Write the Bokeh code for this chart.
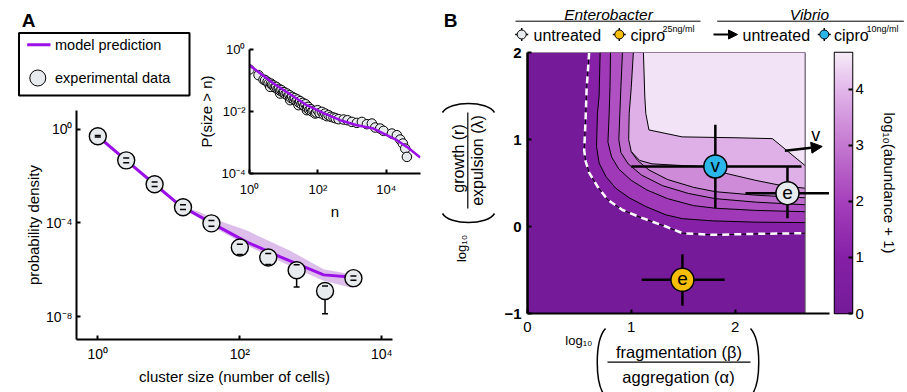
import numpy as np
from bokeh.plotting import figure
from bokeh.layouts import column
from bokeh.models import (Range1d, FixedTicker, CustomJSTickFormatter, ColumnDataSource,
                          LinearColorMapper, Arrow, NormalHead)
from bokeh.core.properties import value
from bokeh.embed import file_html
from bokeh.resources import INLINE

FONT = "Liberation Sans"
PURPLE = "#9c10e8"
BAND = "#d7b3e7"
GREY = "#e8ebee"
BLUE = "#2bb6ea"
YELLOW = "#f6be06"
W, H = 907, 392
BL, BR = 100, 60   # common left/right borders (the column aligns frames horizontally)

# ---------------- Panel A, main plot (log10 values) ----------------
size_log = [0.0, 0.4, 0.8, 1.2, 1.6, 2.0, 2.4, 2.8, 3.2, 3.6]
density_log = [-0.30, -1.33, -2.35, -3.33, -4.02, -5.05, -5.48, -6.02, -6.91, -6.36]
err_up_log = [0.03, 0.10, 0.10, 0.10, 0.12, 0.14, 0.17, 0.23, 0.21, 0.09]
err_down_log = [0.03, 0.10, 0.10, 0.10, 0.12, 0.30, 0.30, 0.72, 0.97, 0.09]

model_size_log = [0.0, 0.4, 0.8, 1.16, 1.63, 2.10, 2.57, 3.18, 3.6]
model_density_log = [-0.30, -1.33, -2.35, -3.26, -4.05, -4.82, -5.45, -6.22, -6.32]

band_size_log = [1.16, 1.44, 1.63, 2.10, 2.71, 3.18, 3.6]
band_upper_log = [-3.24, -3.55, -3.82, -4.33, -5.19, -5.98, -6.22]
band_lower_log = [-3.28, -3.75, -4.19, -4.97, -5.84, -6.47, -6.79]

# ---------------- Panel A, inset: P(size > n) ----------------
ccdf_n_log = [0.00, 0.264, 0.41, 0.46, 0.527, 0.56, 0.605, 0.625, 0.66, 0.703, 0.74, 0.781,
              0.82, 0.859, 0.897, 0.90, 0.936, 0.98, 1.015, 1.05, 1.092, 1.13, 1.17, 1.19,
              1.21, 1.249, 1.29, 1.326, 1.37, 1.404, 1.433, 1.45, 1.482, 1.52, 1.56, 1.60,
              1.638, 1.677, 1.68, 1.716, 1.75, 1.794, 1.83, 1.872, 1.921, 1.95, 1.989, 2.05,
              2.116, 2.17, 2.213, 2.26, 2.311, 2.38, 2.457, 2.52, 2.603, 2.749, 2.866, 2.993,
              3.139, 3.286, 3.432, 3.578, 3.676, 3.822, 3.919, 4.163, 4.309, 4.406, 4.484,
              4.553, 4.602]
ccdf_p_log = [-0.646, -0.829, -0.969, -0.99, -1.044, -1.10, -1.205, -1.098, -1.14, -1.162,
              -1.22, -1.205, -1.28, -1.27, -1.42, -1.33, -1.313, -1.38, -1.377, -1.44, -1.42,
              -1.50, -1.474, -1.635, -1.56, -1.528, -1.60, -1.571, -1.66, -1.614, -1.796,
              -1.71, -1.668, -1.76, -1.722, -1.82, -1.765, -1.958, -1.88, -1.851, -1.95,
              -1.926, -2.00, -1.98, -2.066, -2.03, -1.958, -2.05, -2.012, -2.10, -2.066,
              -2.15, -2.119, -2.17, -2.195, -2.22, -2.248, -2.259, -2.281, -2.335, -2.367,
              -2.335, -2.41, -2.388, -2.517, -2.549, -2.624, -2.711, -2.765, -2.904, -3.033,
              -3.195, -3.464]
ccdf_model_n_log = [0.0, 0.703, 1.677, 2.164, 2.652, 3.139, 3.626, 4.114, 4.309, 4.602, 4.992]
ccdf_model_p_log = [-0.506, -1.098, -1.797, -2.05, -2.281, -2.442, -2.549, -2.818, -2.925, -3.14, -3.485]

# ---------------- Panel B: abundance landscape ----------------
heat_x = [0.0, 2.675]
heat_y = [-1.0, 2.0]
c0_x = [0.594, 0.580, 0.570, 0.562, 0.555, 0.546, 0.560, 0.594, 0.674, 0.770, 0.915, 1.108, 1.333, 1.493, 1.780, 2.230, 2.675]
c0_y = [2.000, 1.750, 1.600, 1.300, 1.100, 0.880, 0.750, 0.620, 0.460, 0.310, 0.190, 0.096, 0.000, -0.077, -0.096, -0.084, -0.077]
c1_x = [0.700, 0.690, 0.674, 0.665, 0.690, 0.755, 0.850, 0.980, 1.140, 1.333, 1.493, 1.780, 2.200, 2.675]
c1_y = [2.000, 1.500, 1.300, 0.920, 0.730, 0.575, 0.440, 0.330, 0.230, 0.134, 0.090, 0.065, 0.050, 0.045]
c2_x = [0.800, 0.795, 0.787, 0.775, 0.810, 0.880, 1.000, 1.150, 1.350, 1.600, 1.810, 2.200, 2.675]
c2_y = [2.000, 1.600, 1.300, 0.970, 0.800, 0.660, 0.530, 0.420, 0.320, 0.240, 0.210, 0.185, 0.170]
c3_x = [0.915, 0.900, 0.890, 0.880, 0.900, 0.970, 1.100, 1.300, 1.550, 1.810, 2.200, 2.675]
c3_y = [2.000, 1.600, 1.300, 1.000, 0.850, 0.720, 0.590, 0.470, 0.380, 0.320, 0.280, 0.250]
c4_x = [1.020, 1.000, 0.980, 0.975, 1.000, 1.060, 1.170, 1.350, 1.600, 1.810, 2.200, 2.675]
c4_y = [2.000, 1.600, 1.300, 1.000, 0.860, 0.760, 0.650, 0.540, 0.450, 0.400, 0.360, 0.330]
c5_x = [1.000, 1.080, 1.200, 1.500, 1.700, 1.810, 1.950, 2.200, 2.450, 2.675]   # branches off c4
c5_y = [0.860, 0.760, 0.720, 0.700, 0.690, 0.640, 0.600, 0.530, 0.470, 0.440]
c6_x = [1.117, 1.130, 1.140, 1.170, 1.490, 2.000, 2.360, 2.675]
c6_y = [2.000, 1.500, 1.300, 1.110, 1.030, 1.020, 1.010, 0.700]
region_levels = [0.05, 1.0, 1.8, 2.3, 2.8, 3.3, 3.9, 4.55]

strain_label = ["v", "e", "e"]
strain_color = [BLUE, GREY, YELLOW]
frag_log = [1.81, 2.505, 1.493]
frag_lo = [1.00, 2.10, 1.10]
frag_hi = [2.64, 2.905, 1.90]
growth_log = [0.69, 0.383, -0.613]
growth_lo = [0.21, 0.096, -0.91]
growth_hi = [1.17, 0.68, -0.32]
vibrio_arrow = [2.48, 0.87, 2.84, 0.92]
vibrio_arrow_label = [2.777, 1.046]

cb_vals = [0.0, 1.0, 2.0, 3.0, 4.0, 4.66]
cb_rgb = [(116, 27, 153), (134, 32, 166), (166, 64, 188), (196, 120, 208), (226, 182, 234), (246, 236, 248)]
cb_ticks = [0, 1, 2, 3, 4]

# ---------------- helpers ----------------
palette = []
for i in range(256):
    v = cb_vals[-1] * i / 255
    rgb = [int(round(np.interp(v, cb_vals, [c[k] for c in cb_rgb]))) for k in range(3)]
    palette.append("#%02x%02x%02x" % tuple(rgb))
mapper = LinearColorMapper(palette=palette, low=cb_vals[0], high=cb_vals[-1])

SUP = CustomJSTickFormatter(code="""
const m = {"0":"\u2070","1":"\u00b9","2":"\u00b2","3":"\u00b3","4":"\u2074","5":"\u2075",
           "6":"\u2076","7":"\u2077","8":"\u2078","9":"\u2079","-":"\u207b"};
const e = Math.round(Math.log10(tick));
return "10" + String(e).split("").map(c => m[c]).join("");
""")


def clean(p):
    p.background_fill_color = None
    p.border_fill_color = None
    p.outline_line_color = None
    for g in p.grid:
        g.visible = False
    return p


def style_axis(ax, size="14px", standoff=5, title_size="15px", title_standoff=6, lw=2):
    ax.axis_line_width = lw
    ax.axis_line_color = "black"
    ax.major_tick_in = 4
    ax.major_tick_out = 0
    ax.major_tick_line_width = 2
    ax.major_tick_line_color = "black"
    ax.minor_tick_line_color = None
    ax.major_label_text_font = FONT
    ax.major_label_text_font_size = size
    ax.major_label_text_color = "black"
    ax.major_label_standoff = standoff
    ax.axis_label_text_font = FONT
    ax.axis_label_text_font_style = "normal"
    ax.axis_label_text_font_size = title_size
    ax.axis_label_text_color = "black"
    ax.axis_label_standoff = title_standoff


def pw(v):
    return [10 ** a for a in v]

# ---------------- Panel A main ----------------
pa = clean(figure(x_axis_type="log", y_axis_type="log",
                  x_range=Range1d(10 ** -0.3, 10 ** 4.15), y_range=Range1d(10 ** -8.98, 10 ** 0.8),
                  frame_width=316, frame_height=229, min_border_left=BL, min_border_top=110,
                  min_border_right=BR, min_border_bottom=53,
                  output_backend="svg", toolbar_location=None))
pa.varea(x=pw(band_size_log), y1=pw(band_lower_log), y2=pw(band_upper_log), fill_color=BAND, fill_alpha=0.85)
pa.line(pw(model_size_log), pw(model_density_log), line_color=PURPLE, line_width=3)
src_a = ColumnDataSource(dict(
    x=pw(size_log), y=pw(density_log),
    hi=[10 ** (d + u) for d, u in zip(density_log, err_up_log)],
    lo=[10 ** (d - e) for d, e in zip(density_log, err_down_log)]))
pa.segment(x0="x", y0="lo", x1="x", y1="hi", source=src_a, line_color="black", line_width=1.5)
pa.scatter("x", "y", source=src_a, marker="circle", size=17, fill_color=GREY, line_color="black", line_width=1.4)
pa.scatter("x", "hi", source=src_a, marker="dash", size=6, line_color="black", line_width=1.5)
pa.scatter("x", "lo", source=src_a, marker="dash", size=6, line_color="black", line_width=1.5)
pa.xaxis.ticker = FixedTicker(ticks=[1, 100, 10000])
pa.yaxis.ticker = FixedTicker(ticks=[1e-8, 1e-4, 1])
pa.xaxis.formatter = SUP
pa.yaxis.formatter = SUP
pa.xaxis.axis_label = "cluster size (number of cells)"
pa.yaxis.axis_label = "probability density"
style_axis(pa.xaxis[0], standoff=6, title_standoff=3)
style_axis(pa.yaxis[0], standoff=4, title_standoff=1)

# ---------------- Panel A inset ----------------
pin = clean(figure(x_axis_type="log", y_axis_type="log",
                   x_range=Range1d(1, 1e5), y_range=Range1d(1e-4, 1),
                   frame_width=171, frame_height=124, min_border_left=BL, min_border_top=19,
                   min_border_right=BR, min_border_bottom=45,
                   output_backend="svg", toolbar_location=None))
pin.scatter(pw(ccdf_n_log), pw(ccdf_p_log), marker="circle", size=9.5, fill_color=GREY,
            line_color="black", line_width=1)
pin.line(pw(ccdf_model_n_log), pw(ccdf_model_p_log), line_color=PURPLE, line_width=2.5)
pin.xaxis.ticker = FixedTicker(ticks=[1, 100, 10000])
pin.yaxis.ticker = FixedTicker(ticks=[1e-4, 1e-2, 1])
pin.xaxis.formatter = SUP
pin.yaxis.formatter = SUP
pin.xaxis.axis_label = "n"
pin.yaxis.axis_label = "P(size > n)"
style_axis(pin.xaxis[0], size="13px", standoff=8, title_standoff=3)
style_axis(pin.yaxis[0], size="13px", standoff=4, title_standoff=3)

# ---------------- Panel B ----------------
pb = clean(figure(x_range=Range1d(0, 2.91), y_range=Range1d(-1, 2),
                  frame_width=302, frame_height=261, min_border_left=BL, min_border_top=52,
                  min_border_right=BR, min_border_bottom=40,
                  output_backend="svg", toolbar_location=None))
corner = (heat_x[1], heat_y[1])
region_xs = [[heat_x[0], heat_x[1], heat_x[1], heat_x[0]]]
region_ys = [[heat_y[0], heat_y[0], heat_y[1], heat_y[1]]]
for cx, cy in [(c0_x, c0_y), (c1_x, c1_y), (c2_x, c2_y), (c3_x, c3_y), (c4_x, c4_y)]:
    region_xs.append(cx + [corner[0]])
    region_ys.append(cy + [corner[1]])
region_xs.append(c4_x[:5] + c5_x[1:] + [corner[0]])
region_ys.append(c4_y[:5] + c5_y[1:] + [corner[1]])
region_xs.append(c6_x + [corner[0]])
region_ys.append(c6_y + [corner[1]])
src_reg = ColumnDataSource(dict(xs=region_xs, ys=region_ys, level=region_levels))
pb.patches("xs", "ys", source=src_reg, fill_color={"field": "level", "transform": mapper}, line_color=None)
pb.multi_line([c1_x, c2_x, c3_x, c4_x, c5_x, c6_x], [c1_y, c2_y, c3_y, c4_y, c5_y, c6_y],
              line_color="black", line_width=1)
pb.line(c0_x, c0_y, line_color="black", line_width=1)
pb.line(c0_x, c0_y, line_color="white", line_width=2.5, line_dash="7 5")
pb.line([heat_x[0], heat_x[1], heat_x[1]], [heat_y[1], heat_y[1], heat_y[0]], line_color="#555555", line_width=1)

src_b = ColumnDataSource(dict(x=frag_log, y=growth_log, xlo=frag_lo, xhi=frag_hi,
                              ylo=growth_lo, yhi=growth_hi, label=strain_label, color=strain_color))
pb.segment(x0="xlo", y0="y", x1="xhi", y1="y", source=src_b, line_color="black", line_width=2.5)
pb.segment(x0="x", y0="ylo", x1="x", y1="yhi", source=src_b, line_color="black", line_width=2.5)
pb.scatter("x", "y", source=src_b, marker="circle", size=23, fill_color="color", line_color="black", line_width=1.5)
pb.text("x", "y", text="label", source=src_b, text_align="center", text_baseline="middle",
        text_font=value(FONT), text_font_size=value("19px"), y_offset=-1)
pb.add_layout(Arrow(end=NormalHead(size=11, fill_color="black", line_color="black"),
                    x_start=vibrio_arrow[0], y_start=vibrio_arrow[1],
                    x_end=vibrio_arrow[2], y_end=vibrio_arrow[3],
                    line_color="black", line_width=2.5))
pb.text(x=[vibrio_arrow_label[0]], y=[vibrio_arrow_label[1]], text=["v"], text_align="center",
        text_baseline="middle", text_font=value(FONT), text_font_size=value("18px"))
pb.xaxis.ticker = FixedTicker(ticks=[0, 1, 2])
pb.yaxis.ticker = FixedTicker(ticks=[-1, 0, 1, 2])
style_axis(pb.xaxis[0], size="15px", standoff=8)
style_axis(pb.yaxis[0], size="15px", standoff=6, lw=2.5)
pb.yaxis.major_label_text_font_style = "bold"

# ---------------- Colorbar ----------------
pcb = figure(x_range=Range1d(0, 1), y_range=Range1d(cb_vals[0], cb_vals[-1]),
             frame_width=18, frame_height=261, min_border_left=BL, min_border_top=52,
             min_border_right=BR, min_border_bottom=10, x_axis_location=None, y_axis_location="right",
             output_backend="svg", toolbar_location=None)
pcb.background_fill_color = None
pcb.border_fill_color = None
for g in pcb.grid:
    g.visible = False
gradient = np.linspace(cb_vals[0], cb_vals[-1], 256).reshape(-1, 1)
pcb.image(image=[gradient], x=0, y=cb_vals[0], dw=1, dh=cb_vals[-1] - cb_vals[0], color_mapper=mapper)
pcb.outline_line_color = "black"
pcb.outline_line_width = 1.5
pcb.yaxis.ticker = FixedTicker(ticks=cb_ticks)
pcb.yaxis.axis_label = "log\u2081\u2080(abundance + 1)"
style_axis(pcb.yaxis[0], size="15px", standoff=3, title_standoff=14)
pcb.yaxis.axis_line_color = None


# ---------------- Overlay canvases in page-pixel coordinates ----------------
def make_canvas(x0, x1):
    c = clean(figure(frame_width=x1 - x0, frame_height=H, x_range=Range1d(x0, x1), y_range=Range1d(0, H),
                     min_border_left=BL, min_border_right=BR, min_border_top=0, min_border_bottom=0,
                     x_axis_location=None, y_axis_location=None,
                     output_backend="svg", toolbar_location=None))
    return c


cvA = make_canvas(0, 440)
cvB = make_canvas(430, W)


def txt(cv, x, y, s, size, align="left", style="normal", angle=0.0, baseline="middle"):
    cv.text(x=[x], y=[H - y], text=[s], text_align=align, text_baseline=baseline, angle=angle,
            text_font=value(FONT), text_font_size=value(size), text_font_style=style, text_color="black")


def seg(cv, x0, y0, x1, y1, color="black", width=1.0):
    cv.segment(x0=[x0], y0=[H - y0], x1=[x1], y1=[H - y1], line_color=color, line_width=width)


def curve(cv, x0, y0, x1, y1, cx0, cy0, cx1, cy1):
    cv.bezier(x0=[x0], y0=[H - y0], x1=[x1], y1=[H - y1], cx0=[cx0], cy0=[H - cy0],
              cx1=[cx1], cy1=[H - cy1], line_color="black", line_width=1.5)


# panel A: letter and legend
txt(cvA, 28, 19.5, "A", "19px", align="center", style="bold")
cvA.quad(left=[18.5], right=[189], top=[H - 32.5], bottom=[H - 95], fill_color="white",
         line_color="black", line_width=2)
seg(cvA, 26.7, 44.3, 50, 44.3, PURPLE, 3)
txt(cvA, 54.5, 44.5, "model prediction", "14.5px")
cvA.scatter(x=[37.3], y=[H - 77.5], marker="circle", size=16, fill_color=GREY, line_color="black", line_width=1)
txt(cvA, 54.5, 77.5, "experimental data", "14.5px")

# panel B: letter and header legend
txt(cvB, 450, 19.5, "B", "19px", align="center", style="bold")
txt(cvB, 608, 13.5, "Enterobacter", "15.5px", align="center", style="italic")
seg(cvB, 515, 20.7, 700, 20.7)
txt(cvB, 809, 13.5, "Vibrio", "15.5px", align="center", style="italic")
seg(cvB, 716.7, 20.7, 903.3, 20.7)
for mx, col in [(521.2, GREY), (618.8, YELLOW), (823.8, BLUE)]:
    seg(cvB, mx - 6.5, 34, mx + 6.5, 34, "black", 1.5)
    seg(cvB, mx, 27.5, mx, 40.5, "black", 1.5)
    cvB.scatter(x=[mx], y=[H - 34], marker="circle", size=9, fill_color=col, line_color="black", line_width=1)
txt(cvB, 533, 34.5, "untreated", "16px")
txt(cvB, 630, 34.5, "cipro", "16px")
txt(cvB, 662, 28.5, "25ng/ml", "9px")
cvB.add_layout(Arrow(end=NormalHead(size=9, fill_color="black", line_color="black"),
                     x_start=713, y_start=H - 34, x_end=737, y_end=H - 34, line_width=2))
txt(cvB, 742, 34.5, "untreated", "16px")
txt(cvB, 833.5, 34.5, "cipro", "16px")
txt(cvB, 866, 28.5, "10ng/ml", "9px")

# y title of panel B: log10( growth (r) / expulsion (lambda) )
txt(cvB, 461, 248, "log\u2081\u2080", "13px", align="center", angle=np.pi / 2)
txt(cvB, 457.5, 158, "growth (r)", "16px", align="center", angle=np.pi / 2)
txt(cvB, 477, 160, "expulsion (\u03bb)", "16px", align="center", angle=np.pi / 2)
seg(cvB, 467.3, 112, 467.3, 208, "black", 1.2)
curve(cvB, 442, 112, 494, 112, 449, 100, 487, 100)
curve(cvB, 442, 213, 494, 213, 449, 225, 487, 225)

# x title of panel B: log10( fragmentation (beta) / aggregation (alpha) )
txt(cvB, 592, 340, "log\u2081\u2080", "13px", align="right")
txt(cvB, 678.5, 351.5, "fragmentation (\u03b2)", "16.5px", align="center")
txt(cvB, 678, 376.5, "aggregation (\u03b1)", "16.5px", align="center")
seg(cvB, 607, 361.7, 750, 361.7, "black", 1.2)
curve(cvB, 605, 328, 605, 396, 594, 340, 594, 384)
curve(cvB, 750, 328, 750, 396, 761, 340, 761, 384)

# ---------------- absolute placement of the pieces (host left = frame left - BL) ----------------
placements = [(pa, 76 - BL, 0), (pin, 249 - BL, 30), (pb, 527 - BL, 0), (pcb, 834 - BL, 0),
              (cvA, 0 - BL, 0), (cvB, 430 - BL, 0)]
for f, left, top in placements:
    f.styles = {"position": "absolute", "left": f"{left}px", "top": f"{top}px"}
root = column([f for f, _, _ in placements], width=W, height=H, sizing_mode="fixed",
              styles={"position": "relative", "overflow": "hidden"})

open("out.html", "w", encoding="utf-8").write(file_html(root, INLINE))
